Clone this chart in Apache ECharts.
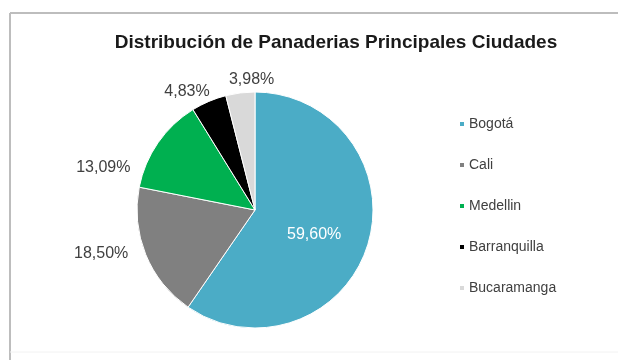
<!DOCTYPE html>
<html>
<head>
<meta charset="utf-8">
<script src="https://cdn.jsdelivr.net/npm/echarts@6/dist/echarts.min.js"></script>
<style>
  html, body { margin: 0; padding: 0; background: #fff; }
  #chart { width: 618px; height: 360px; }
</style>
</head>
<body>
<div id="chart"></div>
<script>
// Bakery share by city (percent)
const cities = ['Bogotá', 'Cali', 'Medellin', 'Barranquilla', 'Bucaramanga'];
const shares = [59.60, 18.50, 13.09, 4.83, 3.98];
const sliceColors = ['#4BACC6', '#808080', '#00B050', '#000000', '#D9D9D9'];
const titleText = 'Distribución de Panaderias Principales Ciudades';
// fine nudges for the data labels, per slice
const labelNudge = [[0, 6], [-5, -4], [-16, 29], [9, -2], [40, -5]];

const FONT = '"Liberation Sans Narrow", "Liberation Sans", Arial, sans-serif';

function fmtPct(v) {
  return v.toFixed(2).replace('.', ',') + '%';
}

const chart = echarts.init(document.getElementById('chart'), null, { renderer: 'canvas' });

const pieData = cities.map((name, i) => {
  const item = {
    name: name,
    value: shares[i],
    itemStyle: { color: sliceColors[i] },
    label: { offset: labelNudge[i] }
  };
  if (i === 0) {
    item.label.position = 'inside';
    item.label.color = '#ffffff';
  }
  return item;
});

chart.setOption({
  animation: false,
  backgroundColor: '#ffffff',
  graphic: [
    { type: 'line', shape: { x1: 10, y1: 13, x2: 618, y2: 13 }, style: { stroke: '#BDBDBD', lineWidth: 2 } },
    { type: 'line', shape: { x1: 10, y1: 13, x2: 10, y2: 360 }, style: { stroke: '#BDBDBD', lineWidth: 2 } },
    { type: 'line', shape: { x1: 10, y1: 352, x2: 618, y2: 352 }, style: { stroke: '#F2F2F2', lineWidth: 1 } }
  ],
  title: {
    text: titleText,
    left: 331,
    textAlign: 'center',
    top: 28,
    textStyle: { fontFamily: FONT, fontWeight: 'bold', fontSize: 19, color: '#1a1a1a' }
  },
  legend: {
    orient: 'vertical',
    left: 453,
    top: 111,
    itemGap: 25,
    itemWidth: 6,
    itemHeight: 6,
    icon: 'rect',
    data: cities,
    textStyle: { fontFamily: FONT, fontSize: 14, lineHeight: 16, color: '#404040', padding: [0, 0, 0, -1] }
  },
  series: [{
    type: 'pie',
    center: [255, 210],
    radius: 118,
    startAngle: 90,
    clockwise: true,
    avoidLabelOverlap: false,
    data: pieData,
    itemStyle: { borderColor: '#ffffff', borderWidth: 1 },
    label: {
      show: true,
      position: 'outside',
      formatter: p => fmtPct(p.value),
      fontFamily: FONT,
      fontSize: 16,
      color: '#404040'
    },
    labelLine: { show: false, length: 8, length2: 0 },
    labelLayout: { hideOverlap: false },
    emphasis: { disabled: true }
  }]
});
</script>
</body>
</html>
